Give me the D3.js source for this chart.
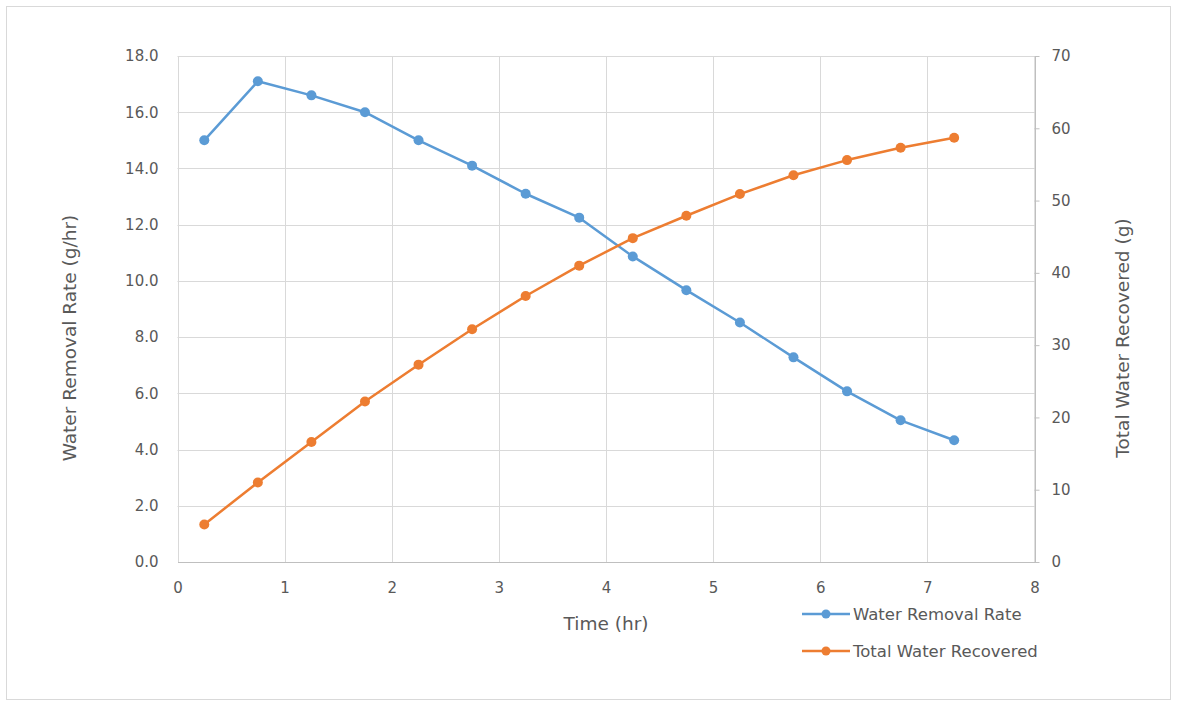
<!DOCTYPE html>
<html lang='en'>
  <head>
    <meta charset='utf-8'>
    <title>Water Removal</title>
    <script src='https://cdn.jsdelivr.net/npm/d3@7/dist/d3.min.js'></script>
    <style>
      body { margin: 0; background: #fff; }
      text { font-family: 'DejaVu Sans', sans-serif; fill: #595959; }
    </style>
  </head>
  <body>
    <script>
      // data
      var times = [0.25, 0.75, 1.25, 1.75, 2.25, 2.75, 3.25, 3.75, 4.25, 4.75, 5.25, 5.75, 6.25, 6.75, 7.25];
      var removalRate = [15.0, 17.1, 16.6, 16.0, 15.0, 14.1, 13.1, 12.25, 10.87, 9.67, 8.52, 7.28, 6.07, 5.04, 4.33];
      var totalRecovered = [5.2, 11.0, 16.6, 22.2, 27.3, 32.2, 36.8, 41.0, 44.8, 47.9, 50.9, 53.5, 55.6, 57.3, 58.7];
      var xTicks = [0, 1, 2, 3, 4, 5, 6, 7, 8];
      var leftTicks = [0, 2, 4, 6, 8, 10, 12, 14, 16, 18];
      var rightTicks = [0, 10, 20, 30, 40, 50, 60, 70];
      var seriesNames = ['Water Removal Rate', 'Total Water Recovered'];
      var colors = ['#5b9bd5', '#ed7d31'];

      var W = 1178, H = 705;
      var pLeft = 177.5, pRight = 1034.5, pTop = 56, pBottom = 562;

      var svg = d3.select('body').append('svg')
                  .attr('width', W)
                  .attr('height', H);

      svg.append('rect')
         .attr('x', 6.5).attr('y', 6.5)
         .attr('width', 1164).attr('height', 693)
         .attr('fill', '#fff')
         .attr('stroke', '#d9d9d9');

      var x = d3.scaleLinear().domain([0, 8]).range([pLeft, pRight]);
      var yL = d3.scaleLinear().domain([0, 18]).range([pBottom, pTop]);
      var yR = d3.scaleLinear().domain([0, 70]).range([pBottom, pTop]);

      // grid
      svg.append('g').selectAll('line')
         .data(leftTicks.slice(1))
         .enter().append('line')
         .attr('x1', pLeft).attr('x2', pRight)
         .attr('y1', function(d){ return Math.round(yL(d)) + 0.5; })
         .attr('y2', function(d){ return Math.round(yL(d)) + 0.5; })
         .attr('stroke', '#d9d9d9').attr('stroke-width', 1);

      svg.append('g').selectAll('line')
         .data(xTicks)
         .enter().append('line')
         .attr('x1', function(d){ return Math.round(x(d)) + 0.5; })
         .attr('x2', function(d){ return Math.round(x(d)) + 0.5; })
         .attr('y1', pTop).attr('y2', pBottom)
         .attr('stroke', function(d){ return d === 8 ? '#bfbfbf' : '#d9d9d9'; })
         .attr('stroke-width', 1);

      // bottom axis
      var xAxis = svg.append('g')
         .attr('transform', 'translate(0,' + pBottom + ')')
         .call(d3.axisBottom(x).tickValues(xTicks).tickSize(0).tickPadding(20).tickFormat(d3.format('d')));
      xAxis.select('.domain').attr('stroke', '#bfbfbf');
      xAxis.selectAll('text').style('font-size', '15px');

      // left axis
      var yAxisL = svg.append('g')
         .attr('transform', 'translate(' + pLeft + ',0)')
         .call(d3.axisLeft(yL).tickValues(leftTicks).tickSize(0).tickPadding(19).tickFormat(d3.format('.1f')));
      yAxisL.select('.domain').remove();
      yAxisL.selectAll('text').style('font-size', '15px');

      // right axis
      var yAxisR = svg.append('g')
         .attr('transform', 'translate(' + pRight + ',0)')
         .call(d3.axisRight(yR).tickValues(rightTicks).tickSize(5).tickSizeOuter(0).tickPadding(12).tickFormat(d3.format('d')));
      yAxisR.select('.domain').attr('stroke', '#bfbfbf');
      yAxisR.selectAll('line').attr('stroke', '#bfbfbf');
      yAxisR.selectAll('text').style('font-size', '15px');

      // axis titles
      svg.append('text')
         .attr('x', 606).attr('y', 630)
         .attr('text-anchor', 'middle')
         .style('font-size', '18.5px')
         .text('Time (hr)');

      svg.append('text')
         .attr('transform', 'translate(76,338) rotate(-90)')
         .attr('text-anchor', 'middle')
         .style('font-size', '18.5px')
         .text('Water Removal Rate (g/hr)');

      svg.append('text')
         .attr('transform', 'translate(1129,338) rotate(-90)')
         .attr('text-anchor', 'middle')
         .style('font-size', '18.5px')
         .text('Total Water Recovered (g)');

      // series
      var series = [
        { name: seriesNames[0], values: removalRate, y: yL, color: colors[0] },
        { name: seriesNames[1], values: totalRecovered, y: yR, color: colors[1] }
      ];

      series.forEach(function(s){
        var line = d3.line()
                     .x(function(d, i){ return x(times[i]); })
                     .y(function(d){ return s.y(d); });
        svg.append('path')
           .datum(s.values)
           .attr('d', line)
           .attr('fill', 'none')
           .attr('stroke', s.color)
           .attr('stroke-width', 2.5)
           .attr('stroke-linejoin', 'round');
        svg.append('g').selectAll('circle')
           .data(s.values)
           .enter().append('circle')
           .attr('cx', function(d, i){ return x(times[i]); })
           .attr('cy', function(d){ return s.y(d); })
           .attr('r', 5)
           .attr('fill', s.color);
      });

      // legend
      var legend = svg.append('g').selectAll('g')
         .data(series)
         .enter().append('g')
         .attr('transform', function(d, i){ return 'translate(802,' + (614 + i * 37) + ')'; });
      legend.append('line')
         .attr('x1', 0).attr('x2', 48)
         .attr('stroke', function(d){ return d.color; })
         .attr('stroke-width', 2.5);
      legend.append('circle')
         .attr('cx', 24).attr('r', 4.5)
         .attr('fill', function(d){ return d.color; });
      legend.append('text')
         .attr('x', 51).attr('dy', '0.35em')
         .style('font-size', '16.5px')
         .text(function(d){ return d.name; });
    </script>
  </body>
</html>
